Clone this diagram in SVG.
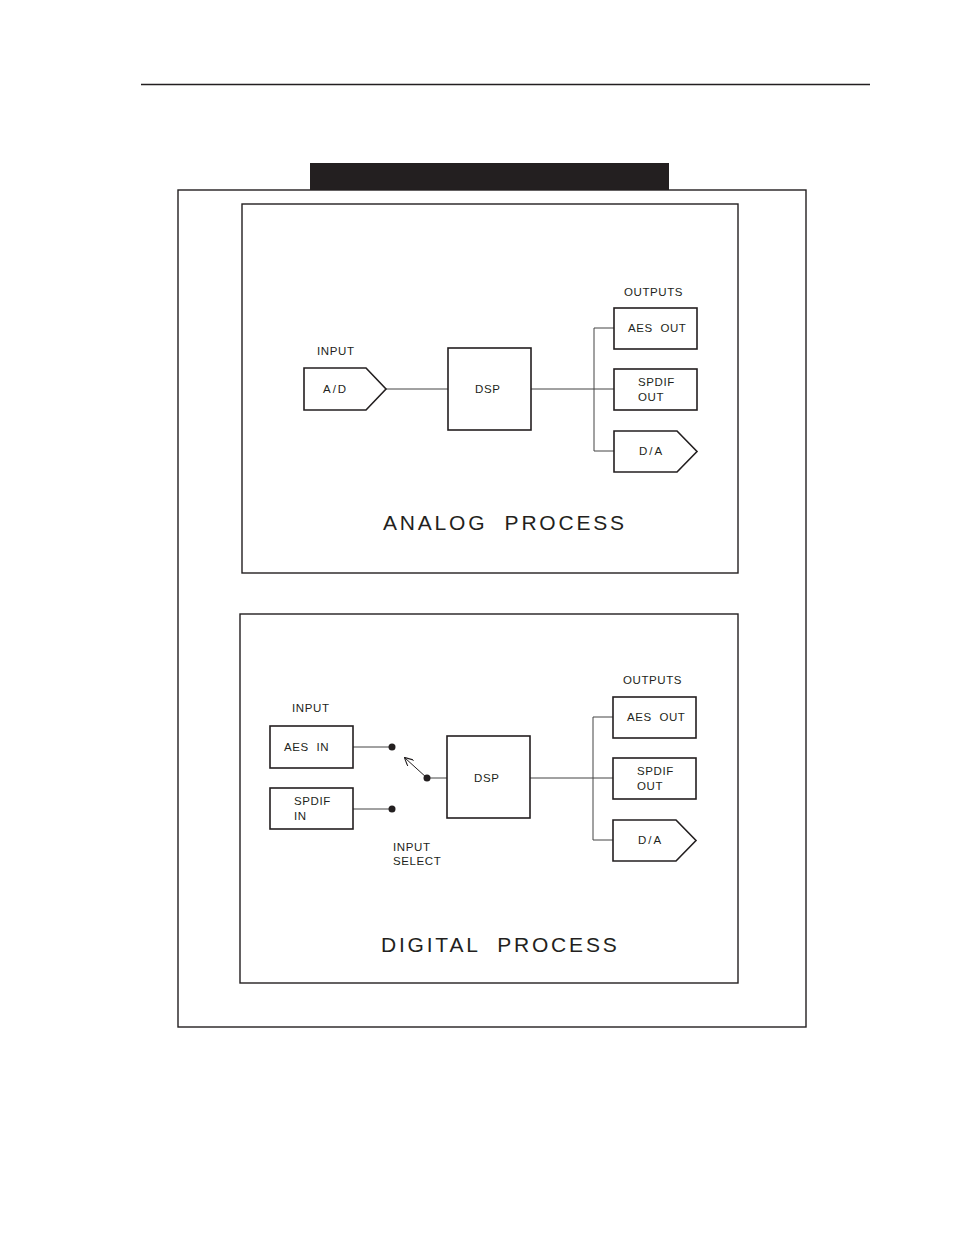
<svg xmlns="http://www.w3.org/2000/svg" width="954" height="1235" viewBox="0 0 954 1235">
<style>
.frame{fill:none;stroke:#231f20;stroke-width:1.4}
.box{fill:#fff;stroke:#231f20;stroke-width:1.6}
.wire{fill:none;stroke:#444;stroke-width:1}
text{white-space:pre}
.lbl{font-family:"Liberation Sans",Arial,sans-serif;font-size:11.5px;fill:#231f20;letter-spacing:0.6px}
.wide{letter-spacing:2px}
.title{font-family:"Liberation Sans",Arial,sans-serif;font-size:21px;fill:#231f20;letter-spacing:2.8px}
.dot{fill:#231f20}
</style>
<defs>
<marker id="arr" viewBox="0 0 10 10" refX="9" refY="5" markerWidth="9" markerHeight="9" orient="auto" markerUnits="userSpaceOnUse">
<path d="M0,0 L10,5 L0,10" fill="none" stroke="#231f20" stroke-width="1.2"/>
</marker>
</defs>
<rect width="954" height="1235" fill="#fff"/>
<line x1="141" y1="84.5" x2="870" y2="84.5" stroke="#231f20" stroke-width="1.3"/>
<rect x="310" y="163" width="359" height="27" fill="#231f20"/>
<rect class="frame" x="178" y="190" width="628" height="837"/>
<rect class="frame" x="242" y="204" width="496" height="369"/>
<rect class="frame" x="240" y="614" width="498" height="369"/>

<g id="connectors">
<line class="wire" x1="386" y1="389" x2="448" y2="389"/>
<line class="wire" x1="531" y1="389" x2="614" y2="389"/>
<polyline class="wire" points="614,328 594,328 594,451 614,451"/>
<line class="wire" x1="353" y1="747" x2="392" y2="747" stroke="#231f20"/>
<line class="wire" x1="353" y1="809" x2="392" y2="809" stroke="#999"/>
<line class="wire" x1="427" y1="778" x2="447" y2="778" stroke="#999"/>
<line x1="427" y1="778" x2="405" y2="758" stroke="#231f20" stroke-width="1" marker-end="url(#arr)"/>
<line class="wire" x1="530" y1="778" x2="613" y2="778"/>
<polyline class="wire" points="613,717 593,717 593,840 613,840"/>
<circle class="dot" cx="392" cy="747" r="3.5"/>
<circle class="dot" cx="392" cy="809" r="3.5"/>
<circle class="dot" cx="427" cy="778" r="3.5"/>
</g>

<g id="analog-title"><text class="title" x="383" y="530">ANALOG  PROCESS</text></g>
<g id="analog-input-label"><text class="lbl" x="317" y="355">INPUT</text></g>
<g id="analog-outputs-label"><text class="lbl" x="624" y="296">OUTPUTS</text></g>
<g id="ad">
<polygon class="box" points="304,368 366,368 386,389 366,410 304,410"/>
<text class="lbl wide" x="323" y="393">A/D</text>
</g>
<g id="dsp1">
<rect class="box" x="448" y="348" width="83" height="82"/>
<text class="lbl" x="475" y="393">DSP</text>
</g>
<g id="aesout1">
<rect class="box" x="614" y="308" width="83" height="41"/>
<text class="lbl" x="628" y="332">AES  OUT</text>
</g>
<g id="spdifout1">
<rect class="box" x="614" y="369" width="83" height="41"/>
<text class="lbl" x="638" y="386">SPDIF</text>
<text class="lbl" x="638" y="401">OUT</text>
</g>
<g id="da1">
<polygon class="box" points="614,431 677,431 697,451.5 677,472 614,472"/>
<text class="lbl wide" x="639" y="455">D/A</text>
</g>

<g id="digital-title"><text class="title" x="381" y="952">DIGITAL  PROCESS</text></g>
<g id="digital-input-label"><text class="lbl" x="292" y="712">INPUT</text></g>
<g id="digital-outputs-label"><text class="lbl" x="623" y="684">OUTPUTS</text></g>
<g id="input-select-label">
<text class="lbl" x="393" y="851">INPUT</text>
<text class="lbl" x="393" y="865">SELECT</text>
</g>
<g id="aesin">
<rect class="box" x="270" y="726" width="83" height="42"/>
<text class="lbl" x="284" y="751">AES  IN</text>
</g>
<g id="spdifin">
<rect class="box" x="270" y="788" width="83" height="41"/>
<text class="lbl" x="294" y="805">SPDIF</text>
<text class="lbl" x="294" y="820">IN</text>
</g>
<g id="dsp2">
<rect class="box" x="447" y="736" width="83" height="82"/>
<text class="lbl" x="474" y="782">DSP</text>
</g>
<g id="aesout2">
<rect class="box" x="613" y="697" width="83" height="41"/>
<text class="lbl" x="627" y="721">AES  OUT</text>
</g>
<g id="spdifout2">
<rect class="box" x="613" y="758" width="83" height="41"/>
<text class="lbl" x="637" y="775">SPDIF</text>
<text class="lbl" x="637" y="790">OUT</text>
</g>
<g id="da2">
<polygon class="box" points="613,820 676,820 696,840.5 676,861 613,861"/>
<text class="lbl wide" x="638" y="844">D/A</text>
</g>
</svg>
